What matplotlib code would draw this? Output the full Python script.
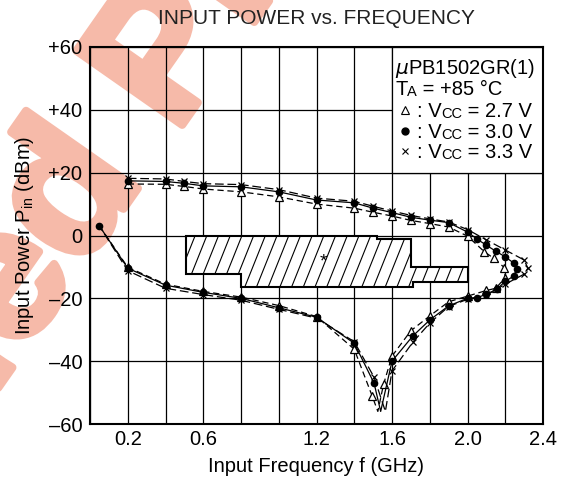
import numpy as np
import matplotlib
matplotlib.use('Agg')
import matplotlib.pyplot as plt
import matplotlib.patheffects as pe
from matplotlib.patches import Polygon, Rectangle
from matplotlib.collections import LineCollection

plt.rcParams['font.family'] = ['Liberation Sans', 'DejaVu Sans']

# ---------------- data ----------------
# Vcc = 2.7 V (triangles)
f27 = [0.2, 0.4, 0.5, 0.6, 0.8, 1.0, 1.2, 1.4, 1.5, 1.6, 1.7, 1.8, 1.9, 2.0, 2.09, 2.14, 2.195, 2.20,
       2.15, 2.10, 2.0, 1.9, 1.8, 1.7, 1.6, 1.555, 1.525, 1.495, 1.4, 1.2, 1.0, 0.8, 0.6, 0.4, 0.2, 0.05]
p27 = [16.4, 16.3, 15.6, 14.8, 13.9, 12.3, 10.0, 8.7, 7.4, 6.2, 4.8, 3.8, 2.7, -0.2, -5.2, -7.3, -10.2, -13.4,
       -16.8, -17.5, -19.3, -21.1, -25.6, -30.3, -38.4, -47.4, -56.0, -51.1, -36.2, -25.8, -22.3, -19.6, -17.8, -15.5, -10.1, 3.0]
nomark27 = [26, 35]

# Vcc = 3.0 V (dots)
f30 = [0.2, 0.4, 0.5, 0.6, 0.8, 1.0, 1.2, 1.4, 1.5, 1.6, 1.7, 1.8, 1.9, 2.0, 2.05, 2.1, 2.15, 2.2, 2.248, 2.26,
       2.245, 2.2, 2.155, 2.1, 2.05, 2.0, 1.9, 1.8, 1.71, 1.6, 1.54, 1.505, 1.4, 1.2, 1.0, 0.8, 0.6, 0.4, 0.2, 0.05]
p30 = [17.4, 17.2, 16.6, 15.8, 15.5, 13.9, 11.3, 10.4, 8.7, 7.3, 5.8, 4.9, 4.1, 1.1, -1.1, -3.1, -5.0, -6.8, -8.9, -10.7,
       -12.9, -14.6, -17.1, -18.7, -19.8, -20.0, -22.4, -26.9, -32.0, -40.0, -56.0, -47.0, -34.3, -26.0, -23.0, -20.0, -18.1, -15.8, -10.4, 3.0]
nomark30 = [30]

# Vcc = 3.3 V (crosses)
f33 = [0.2, 0.4, 0.5, 0.6, 0.8, 1.0, 1.2, 1.4, 1.5, 1.6, 1.7, 1.8, 1.9, 2.0, 2.1, 2.2, 2.3, 2.32,
       2.3, 2.2, 2.1, 2.0, 1.9, 1.8, 1.71, 1.6, 1.565, 1.505, 1.4, 1.2, 1.0, 0.8, 0.6, 0.4, 0.2, 0.05]
p33 = [18.2, 18.0, 17.2, 16.5, 16.2, 14.6, 11.9, 10.9, 9.3, 7.8, 6.4, 5.3, 4.3, 1.9, -1.4, -4.6, -7.8, -10.4,
       -12.3, -15.5, -19.0, -20.3, -22.6, -27.9, -34.0, -43.1, -56.0, -45.1, -33.8, -26.3, -23.5, -20.6, -18.8, -16.8, -11.2, 3.0]
nomark33 = [26, 35]

# hatched region (GHz, dBm)
area_f = [0.51, 1.52, 1.52, 1.70, 1.70, 2.00, 2.00, 1.71, 1.71, 0.80, 0.80, 0.51]
area_p = [0.0, 0.0, -1.0, -1.0, -9.9, -9.9, -14.9, -14.9, -16.3, -16.3, -12.3, -12.3]

xticks = [0.0, 0.2, 0.4, 0.6, 0.8, 1.0, 1.2, 1.4, 1.6, 1.8, 2.0, 2.2, 2.4]
xticklabels = ['', '0.2', '', '0.6', '', '', '1.2', '', '1.6', '', '2.0', '', '2.4']
yticks = [-60, -40, -20, 0, 20, 40, 60]
yticklabels = ['\u201360', '\u201340', '\u201320', '0', '+20', '+40', '+60']

# ---------------- figure ----------------
W, H = 566, 487
fig = plt.figure(figsize=(W / 100, H / 100), dpi=100)
fig.patch.set_facecolor('white')

# watermark
wm_color = '#f6baa9'
wm_size = 135
wm_fx = [pe.withStroke(linewidth=6, foreground=wm_color)]
fig.text(175 / W, 1 - 135 / H, 'Product', rotation=55, rotation_mode='anchor',
         ha='left', va='baseline', fontsize=wm_size, fontweight='bold', color=wm_color, zorder=-1,
         path_effects=wm_fx)
fig.text(145 / W, 1 - 178 / H, 'Discontinued', rotation=55, rotation_mode='anchor',
         ha='right', va='baseline', fontsize=wm_size, fontweight='bold', color=wm_color, zorder=-1,
         path_effects=wm_fx)

ax = fig.add_axes([90 / W, 1 - 424 / H, 453 / W, 377 / H])
ax.set_facecolor('none')
ax.set_xlim(0, 2.4)
ax.set_ylim(-60, 60)
ax.set_xticks(xticks)
ax.set_xticklabels(xticklabels)
ax.set_yticks(yticks)
ax.set_yticklabels(yticklabels)
ax.tick_params(axis='both', length=0, labelsize=14.5, colors='black')
ax.tick_params(axis='x', pad=4.5)
ax.tick_params(axis='y', pad=5.5)
ax.set_axisbelow(True)
ax.grid(True, color='black', lw=0.9)
for s in ax.spines.values():
    s.set_linewidth(1.5)
    s.set_zorder(6)

ax.add_patch(Rectangle((1.6, 20), 0.8, 40, facecolor='white', edgecolor='black', lw=0.9, zorder=1))

poly = Polygon(list(zip(area_f, area_p)), closed=True, facecolor='white', edgecolor='none', zorder=2)
ax.add_patch(poly)
segs = []
for c in np.arange(0.30, 2.10, 0.062):
    segs.append([(c, -20), (c + 25 / 150.0, 5)])
lc = LineCollection(segs, colors='black', linewidths=0.8, zorder=2.1)
ax.add_collection(lc)
lc.set_clip_path(poly)
ax.add_patch(Polygon(list(zip(area_f, area_p)), closed=True, fill=False, edgecolor='black', lw=1.5, zorder=2.5))
ax.text(1.236, -8.5, '*', fontsize=14, ha='center', va='center', zorder=2.6)

def marks(n, skip):
    return [i for i in range(n) if i not in skip]

ax.plot(f27, p27, color='black', lw=0.9, ls=(0, (5, 3)), zorder=3,
        marker='^', ms=6, mfc='white', mec='black', mew=0.9, markevery=marks(len(f27), nomark27))
ax.plot(f30, p30, color='black', lw=0.9, ls='-', zorder=3.2,
        marker='o', ms=4.5, mfc='black', mec='black', markevery=marks(len(f30), nomark30))
ax.plot(f33, p33, color='black', lw=0.9, ls=(0, (7, 3)), zorder=3.1,
        marker='x', ms=5, mec='black', mew=0.9, markevery=marks(len(f33), nomark33))

def chain(x, y, pieces):
    prev = None
    for txt, sz in pieces:
        if prev is None:
            prev = ax.text(x, y, txt, fontsize=sz, ha='left', va='bottom', zorder=5)
        else:
            prev = ax.annotate(txt, xy=(1, 0), xycoords=prev, fontsize=sz, ha='left', va='bottom', zorder=5)
    return prev

big, small = 14.5, 10.5
lx = 1.616
ax.text(lx, 49.6, r'$\mu$PB1502GR(1)', fontsize=big, ha='left', va='bottom', zorder=5)
chain(lx, 43.4, [('T', big), ('A', small), (' = +85 \u00b0C', big)])
tx = 1.731
chain(tx, 36.6, [(': V', big), ('CC', small), (' = 2.7 V', big)])
chain(tx, 29.9, [(': V', big), ('CC', small), (' = 3.0 V', big)])
chain(tx, 23.5, [(': V', big), ('CC', small), (' = 3.3 V', big)])
ax.plot([1.669], [40.0], marker='^', ms=5.5, mfc='white', mec='black', mew=0.8, ls='none', zorder=5)
ax.plot([1.669], [33.3], marker='o', ms=5, mfc='black', mec='black', ls='none', zorder=5)
ax.plot([1.669], [26.8], marker='x', ms=4, mec='black', mew=0.8, ls='none', zorder=5)

ax.set_xlabel('Input Frequency f (GHz)', fontsize=14.5)
ax.xaxis.set_label_coords(0.5, (424 - 457) / 377)
ax.set_ylabel(r'Input Power P$_\mathregular{in}$ (dBm)', fontsize=14.5)
ax.yaxis.set_label_coords((36 - 90) / 453, 0.5)
fig.text(316.5 / W, 1 - 24 / H, 'INPUT POWER vs. FREQUENCY', fontsize=15, ha='center',
         va='baseline', color='#222222')

fig.savefig('out.png', dpi=100, facecolor='white')
